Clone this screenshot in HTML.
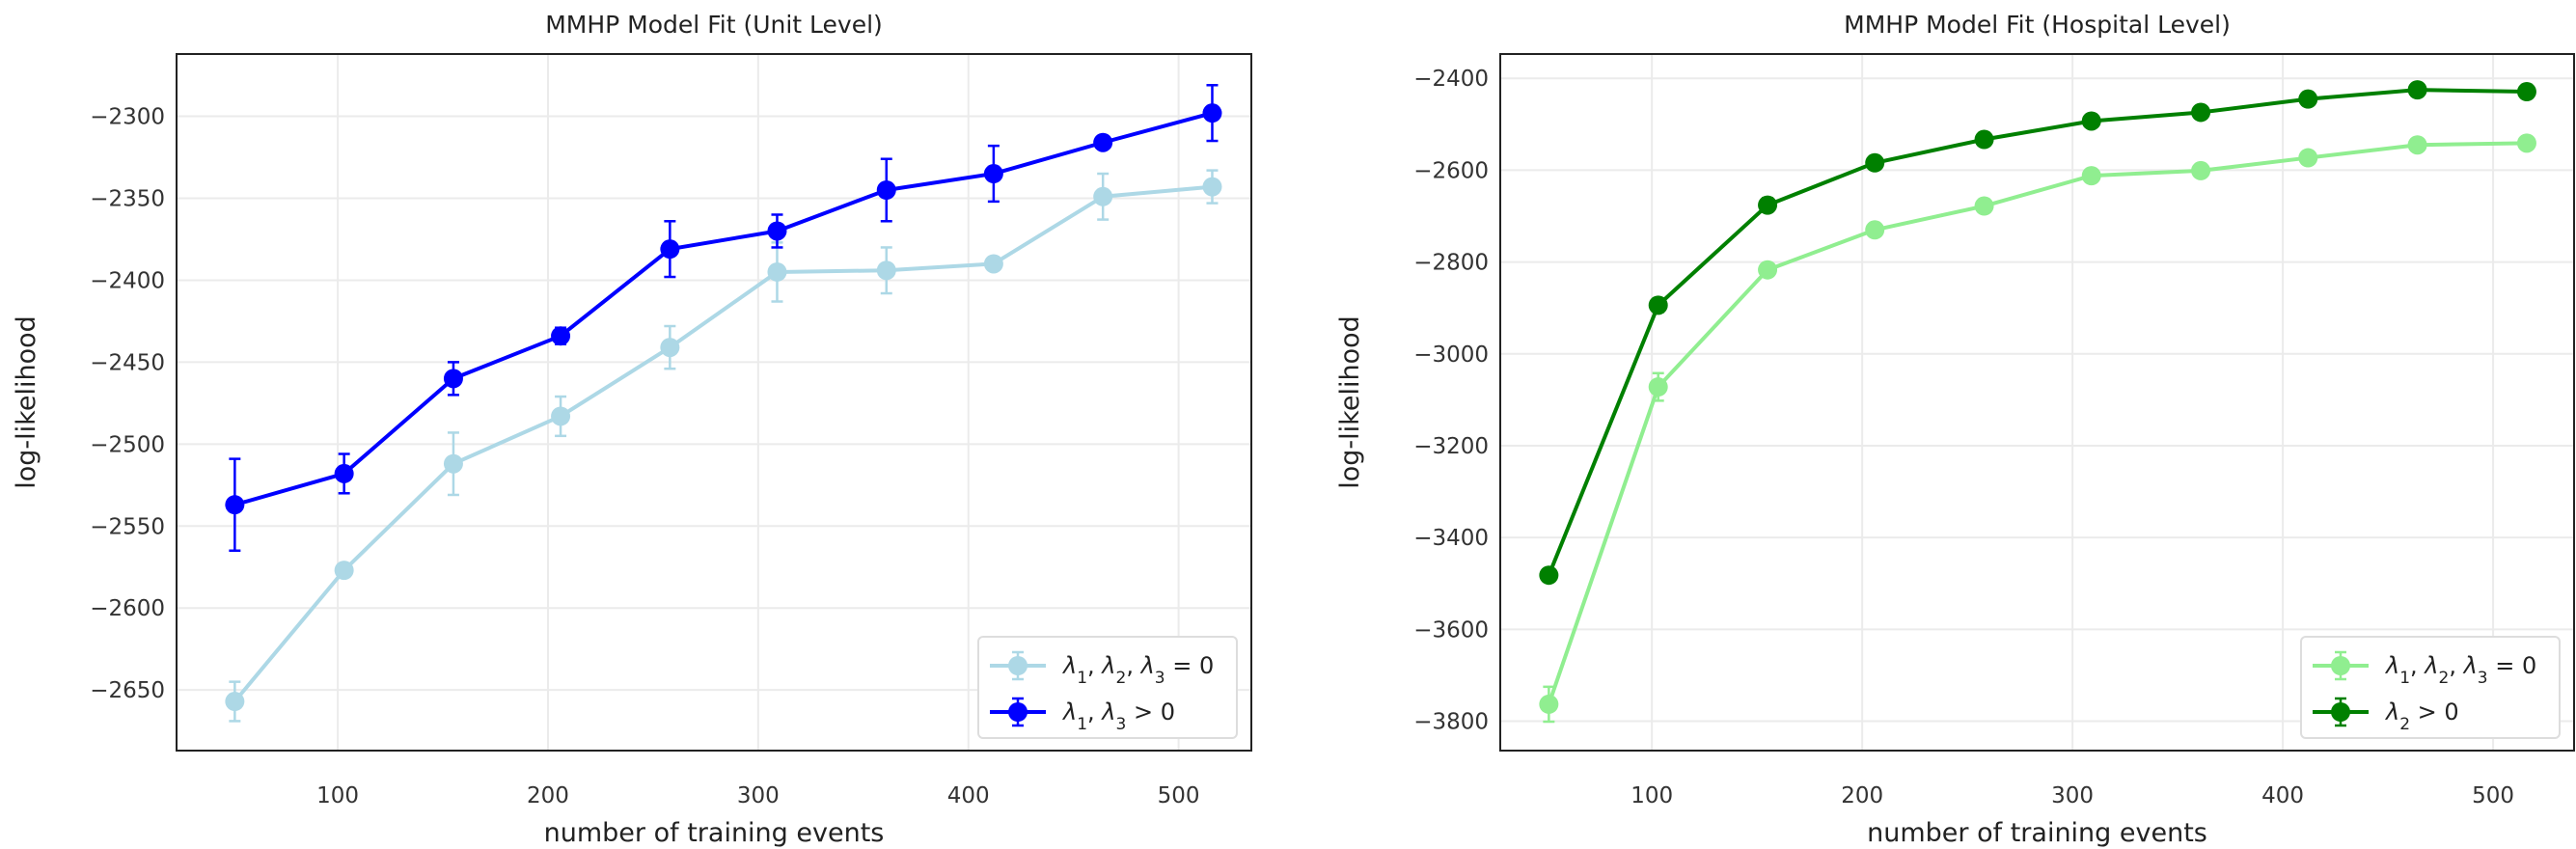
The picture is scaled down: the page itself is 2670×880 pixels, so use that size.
<!DOCTYPE html>
<html><head><meta charset="utf-8"><style>
html,body{margin:0;padding:0;background:#fff}
svg{display:block;font-family:"DejaVu Sans","Liberation Sans",sans-serif}
</style></head><body>
<svg id="fig" width="2670" height="880" viewBox="0 0 2670 880" xmlns="http://www.w3.org/2000/svg"></svg>
<script>
// ---- data ----
const xEvents = [51, 103, 155, 206, 258, 309, 361, 412, 464, 516];
const unitBase = [-2657, -2577, -2512, -2483, -2441, -2395, -2394, -2390, -2349, -2343];
const unitBaseErr = [12, 2, 19, 12, 13, 18, 14, 4, 14, 10];
const unitFull = [-2537, -2518, -2460, -2434, -2381, -2370, -2345, -2335, -2316, -2298];
const unitFullErr = [28, 12, 10, 5, 17, 10, 19, 17, 3, 17];
const hospBase = [-3763, -3072, -2817, -2730, -2678, -2612, -2601, -2573, -2545, -2541];
const hospBaseErr = [38, 30, 6, 6, 6, 6, 6, 6, 6, 6];
const hospFull = [-3482, -2894, -2676, -2584, -2533, -2493, -2474, -2445, -2425, -2429];
const hospFullErr = [6, 15, 15, 10, 6, 6, 6, 6, 6, 6];
const xTicks = [100, 200, 300, 400, 500];
const unitYTicks = [-2300, -2350, -2400, -2450, -2500, -2550, -2600, -2650];
const hospYTicks = [-2400, -2600, -2800, -3000, -3200, -3400, -3600, -3800];

const NS = "http://www.w3.org/2000/svg";
const svg = document.getElementById('fig');
function mk(tag, attrs, parent, text) {
  const e = document.createElementNS(NS, tag);
  for (const k in attrs) e.setAttribute(k, attrs[k]);
  if (text !== undefined) e.textContent = text;
  (parent || svg).appendChild(e);
  return e;
}

function panel(cfg) {
  const g = mk('g', {});
  
  
  const L = cfg.box[0], R = cfg.box[1], T = 56, B = 778;
  const xs = v => L + (v - cfg.xr[0]) / (cfg.xr[1] - cfg.xr[0]) * (R - L);
  const ys = v => B - (v - cfg.yr[0]) / (cfg.yr[1] - cfg.yr[0]) * (B - T);
  // grid
  xTicks.forEach(t => {
    const l = mk('line', {x1: xs(t), x2: xs(t), y1: T, y2: B, stroke: '#ebebeb', 'stroke-width': 2}, g);
    
    
    const tx = mk('text', {x: xs(t), y: 832, 'text-anchor': 'middle', 'font-size': 23, fill: '#333'}, g, String(t));
    
    
  });
  cfg.yt.forEach(t => {
    const l = mk('line', {x1: L, x2: R, y1: ys(t), y2: ys(t), stroke: '#ebebeb', 'stroke-width': 2}, g);
    
    
    const tx = mk('text', {x: L - 12, y: ys(t) + 8, 'text-anchor': 'end', 'font-size': 23, fill: '#333'}, g, '\u2212' + String(Math.abs(t)));
    
    
  });
  // series
  cfg.series.forEach(s => {
    const sg = mk('g', {}, g);
    
    
    const pts = xEvents.map((x, i) => xs(x) + ',' + ys(s.y[i])).join(' ');
    mk('polyline', {points: pts, fill: 'none', stroke: s.color, 'stroke-width': 4, 'stroke-linejoin': 'round'}, sg);
    xEvents.forEach((x, i) => {
      const cx = xs(x), y1 = ys(s.y[i] + s.e[i]), y2 = ys(s.y[i] - s.e[i]);
      mk('line', {x1: cx, x2: cx, y1: y1, y2: y2, stroke: s.color, 'stroke-width': 2.5}, sg);
      mk('line', {x1: cx - 6, x2: cx + 6, y1: y1, y2: y1, stroke: s.color, 'stroke-width': 2.5}, sg);
      mk('line', {x1: cx - 6, x2: cx + 6, y1: y2, y2: y2, stroke: s.color, 'stroke-width': 2.5}, sg);
      const c = mk('circle', {cx: cx, cy: ys(s.y[i]), r: 10, fill: s.color}, sg);
      
      
    });
  });
  // frame
  mk('rect', {x: L, y: T, width: R - L, height: B - T, fill: 'none', stroke: '#222', 'stroke-width': 2}, g);
  // title, labels
  const ti = mk('text', {x: (L + R) / 2, y: 34, 'text-anchor': 'middle', 'font-size': 25, fill: '#222'}, g, cfg.title);
  
  
  const xl = mk('text', {x: (L + R) / 2, y: 872, 'text-anchor': 'middle', 'font-size': 27, fill: '#222'}, g, 'number of training events');
  
  
  const yl = mk('text', {x: 0, y: 0, 'text-anchor': 'middle', 'font-size': 27, fill: '#222', transform: 'translate(' + cfg.ylx + ',' + (T + B) / 2 + ') rotate(-90)'}, g, 'log-likelihood');
  
  
  // legend
  const lg = mk('g', {}, g);
  
  
  const lx = R - 15 - cfg.lw, ly = 660;
  mk('rect', {x: lx, y: ly, width: cfg.lw, height: 105, rx: 5, fill: '#fff', stroke: '#ddd', 'stroke-width': 2}, lg);
  cfg.series.forEach((s, i) => {
    const yy = ly + 30 + i * 48;
    const ent = mk('g', {}, lg);
    
    
    mk('line', {x1: lx + 12, x2: lx + 70, y1: yy, y2: yy, stroke: s.color, 'stroke-width': 4}, ent);
    mk('line', {x1: lx + 41, x2: lx + 41, y1: yy - 14, y2: yy + 14, stroke: s.color, 'stroke-width': 2.5}, ent);
    mk('line', {x1: lx + 35, x2: lx + 47, y1: yy - 14, y2: yy - 14, stroke: s.color, 'stroke-width': 2.5}, ent);
    mk('line', {x1: lx + 35, x2: lx + 47, y1: yy + 14, y2: yy + 14, stroke: s.color, 'stroke-width': 2.5}, ent);
    mk('circle', {cx: lx + 41, cy: yy, r: 10, fill: s.color}, ent);
    const t = mk('text', {x: lx + 88, y: yy + 8, 'font-size': 24, fill: '#222', 'font-style': 'normal'}, ent);
    t.innerHTML = s.label;
  });
}
const sub = n => '<tspan baseline-shift="sub" font-size="17">' + n + '</tspan>';
const lam = '<tspan font-style="italic">\u03bb</tspan>';
panel({
  name: 'unit-level-chart', box: [183, 1297], xr: [23.3, 534.6], yr: [-2687, -2262], yt: unitYTicks, ylx: 36,
  title: 'MMHP Model Fit (Unit Level)', lw: 268,
  series: [
    {name: 'series-baseline', color: '#add8e6', y: unitBase, e: unitBaseErr, label: lam + sub(1) + ', ' + lam + sub(2) + ', ' + lam + sub(3) + ' = 0'},
    {name: 'series-lambda13', color: '#0000ff', y: unitFull, e: unitFullErr, label: lam + sub(1) + ', ' + lam + sub(3) + ' &gt; 0'}
  ]
});
panel({
  name: 'hospital-level-chart', box: [1555, 2668], xr: [27.9, 538.5], yr: [-3864, -2347], yt: hospYTicks, ylx: 1408,
  title: 'MMHP Model Fit (Hospital Level)', lw: 268,
  series: [
    {name: 'series-baseline', color: '#90ee90', y: hospBase, e: hospBaseErr, label: lam + sub(1) + ', ' + lam + sub(2) + ', ' + lam + sub(3) + ' = 0'},
    {name: 'series-lambda2', color: '#008000', y: hospFull, e: hospFullErr, label: lam + sub(2) + ' &gt; 0'}
  ]
});
</script>
</body></html>
